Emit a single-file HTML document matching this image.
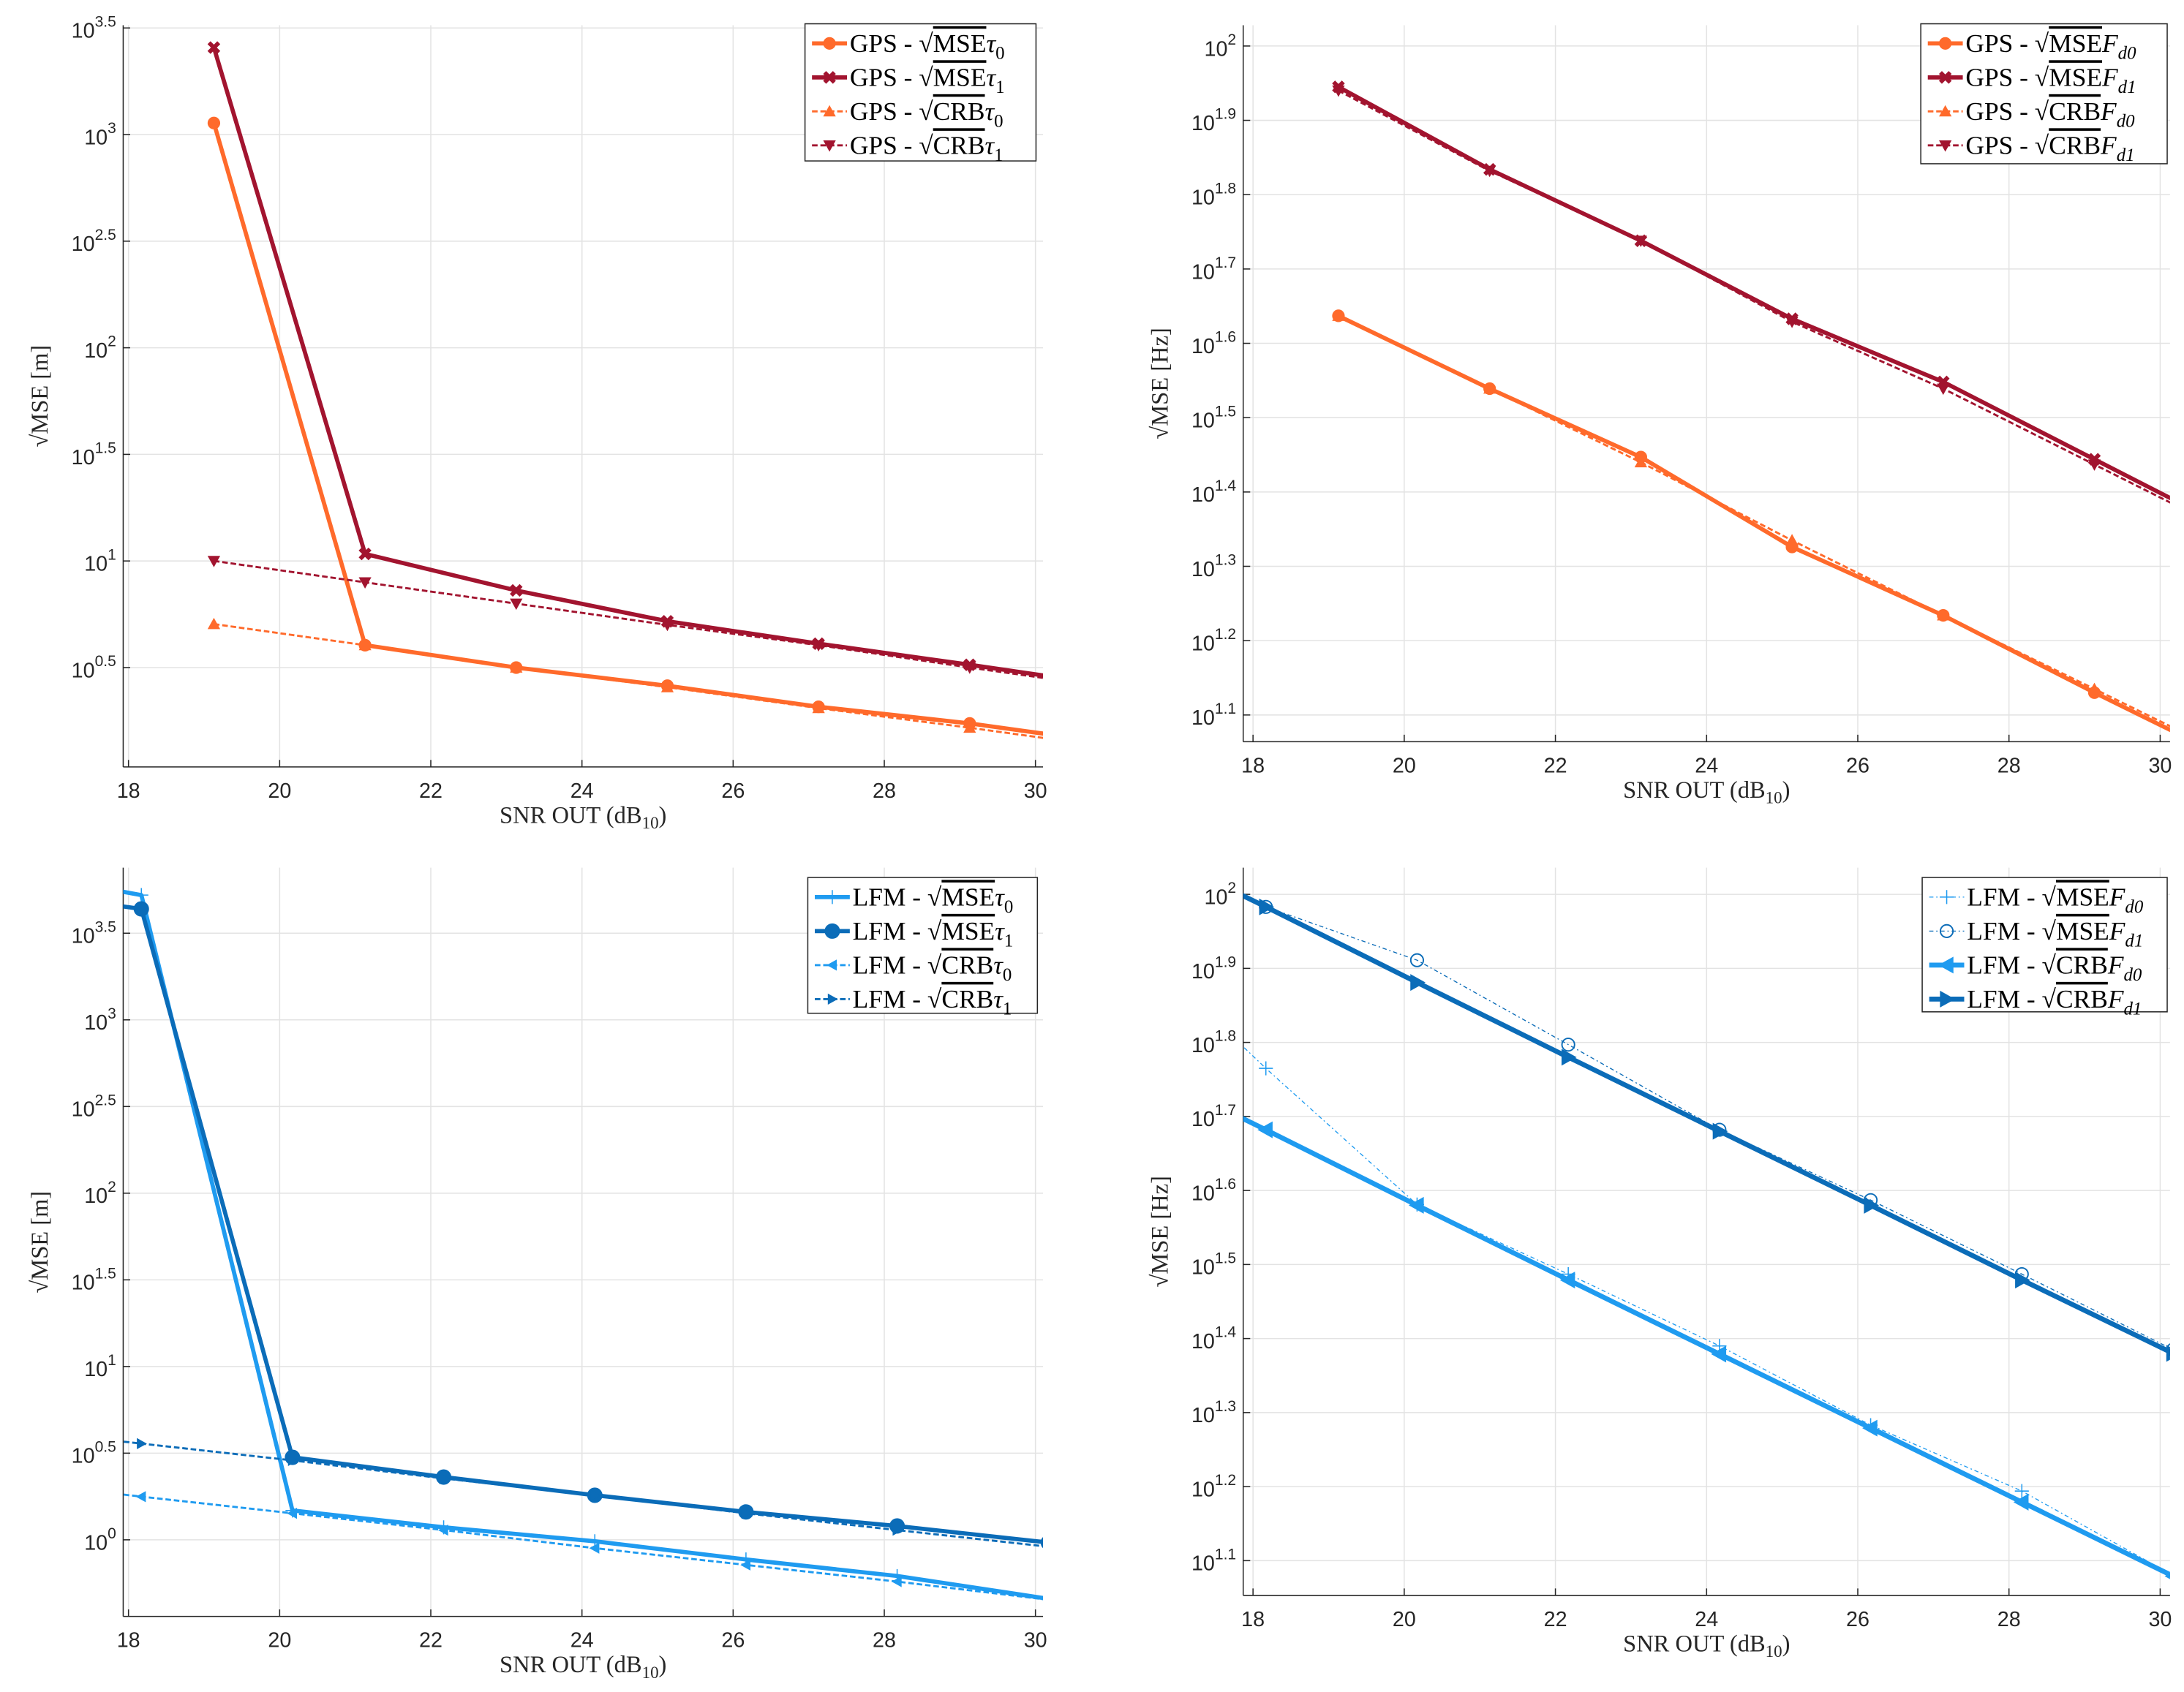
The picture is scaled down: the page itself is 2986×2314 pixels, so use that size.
<!DOCTYPE html>
<html><head><meta charset="utf-8"><style>
html,body{margin:0;padding:0;background:#fff;}
svg{display:block;}
.tick{font-family:"Liberation Sans",sans-serif;font-size:15px;fill:#262626;}
.lab{font-family:"Liberation Serif",serif;font-size:17px;fill:#262626;}
.leg{font-family:"Liberation Serif",serif;font-size:18.5px;fill:#000;}
</style></head><body>
<svg id="fig" width="2986" height="2314" viewBox="0 0 1560 1209" preserveAspectRatio="none" xmlns="http://www.w3.org/2000/svg"></svg>
<script>
// ---- data ----
const xTicks = [18,20,22,24,26,28,30];
const xGps = [19.13,21.13,23.13,25.13,27.13,29.13,31.13];
const xLfm = [16.17,18.17,20.17,22.17,24.17,26.17,28.17,30.17,32.17];
// log10 values
const gpsMseTau0 = [3.054,0.605,0.5,0.415,0.316,0.238,0.14];
const gpsMseTau1 = [3.408,1.033,0.862,0.717,0.612,0.513,0.41];
const gpsCrbTau0 = [0.704,0.605,0.5,0.408,0.31,0.218,0.12];
const gpsCrbTau1 = [1.0,0.9,0.8,0.7,0.605,0.5,0.4];
const gpsMseFd0 = [1.637,1.539,1.447,1.326,1.234,1.13,1.03];
const gpsMseFd1 = [1.945,1.834,1.738,1.633,1.548,1.444,1.34];
const gpsCrbFd0 = [1.637,1.539,1.44,1.335,1.234,1.135,1.035];
const gpsCrbFd1 = [1.94,1.832,1.738,1.629,1.539,1.437,1.335];
const lfmMseTau0 = [3.88,3.72,0.169,0.072,-0.008,-0.113,-0.209,-0.34,-0.45];
const lfmMseTau1 = [3.76,3.64,0.476,0.362,0.257,0.161,0.08,-0.016,-0.11];
const lfmCrbTau0 = [0.35,0.249,0.153,0.056,-0.048,-0.145,-0.241,-0.346,-0.45];
const lfmCrbTau1 = [0.65,0.555,0.458,0.354,0.257,0.153,0.056,-0.04,-0.14];
const lfmMseFd0 = [1.96,1.765,1.581,1.487,1.39,1.283,1.194,1.08,0.98];
const lfmMseFd1 = [2.08,1.983,1.911,1.797,1.682,1.587,1.487,1.385,1.285];
const lfmCrbFd0 = [1.782,1.682,1.58,1.479,1.379,1.279,1.179,1.079,0.979];
const lfmCrbFd1 = [2.083,1.983,1.881,1.78,1.68,1.58,1.479,1.38,1.28];
const tauTicks = [0.5,1,1.5,2,2.5,3,3.5];
const tauTickLabels = ['0.5','1','1.5','2','2.5','3','3.5'];
const tauTicksL = [0,0.5,1,1.5,2,2.5,3,3.5];
const tauTickLabelsL = ['0','0.5','1','1.5','2','2.5','3','3.5'];
const fdTicks = [1.1,1.2,1.3,1.4,1.5,1.6,1.7,1.8,1.9,2];
const fdTickLabels = ['1.1','1.2','1.3','1.4','1.5','1.6','1.7','1.8','1.9','2'];

const ORANGE='#ff6a2b', RED='#a2142f', LB='#1f9bf0', DB='#0b6cb8';
const NS='http://www.w3.org/2000/svg';
const fig=document.getElementById('fig');
function el(tag,attrs,parent){const e=document.createElementNS(NS,tag);for(const k in attrs)e.setAttribute(k,attrs[k]);(parent||fig).appendChild(e);return e;}

function marker(g,type,x,y,color,size){
  const s=size;
  if(type==='o')return el('circle',{cx:x,cy:y,r:s,fill:color,stroke:color},g);
  if(type==='oo')return el('circle',{cx:x,cy:y,r:s,fill:'none',stroke:color,'stroke-width':1},g);
  if(type==='x')return el('path',{d:`M${x-s},${y-s}L${x+s},${y+s}M${x-s},${y+s}L${x+s},${y-s}`,stroke:color,'stroke-width':3},g);
  if(type==='^')return el('path',{d:`M${x},${y-s}L${x+s},${y+s*0.8}L${x-s},${y+s*0.8}Z`,fill:color},g);
  if(type==='v')return el('path',{d:`M${x},${y+s}L${x+s},${y-s*0.8}L${x-s},${y-s*0.8}Z`,fill:color},g);
  if(type==='<')return el('path',{d:`M${x-s},${y}L${x+s*0.8},${y-s}L${x+s*0.8},${y+s}Z`,fill:color},g);
  if(type==='>')return el('path',{d:`M${x+s},${y}L${x-s*0.8},${y-s}L${x-s*0.8},${y+s}Z`,fill:color},g);
  if(type==='+')return el('path',{d:`M${x-s},${y}L${x+s},${y}M${x},${y-s}L${x},${y+s}`,stroke:color,'stroke-width':0.8},g);
}

let pid=0;
function plot(cfg){
  pid++;
  const {L,R,T,B,xmin,xmax,ymin,ymax}=cfg;
  const g=el('g',{});
  
  
  const sx=v=>L+(v-xmin)/(xmax-xmin)*(R-L);
  const sy=v=>B-(v-ymin)/(ymax-ymin)*(B-T);
  const cp=el('clipPath',{id:'cp'+pid},g);el('rect',{x:L,y:T,width:R-L,height:B-T},cp);
  xTicks.forEach(t=>{const l=el('line',{x1:sx(t),x2:sx(t),y1:T,y2:B,stroke:'#e3e3e3','stroke-width':0.8},g);});
  cfg.yticks.forEach(t=>{const l=el('line',{x1:L,x2:R,y1:sy(t),y2:sy(t),stroke:'#e3e3e3','stroke-width':0.8},g);});
  el('line',{x1:L,x2:L,y1:T,y2:B,stroke:'#262626','stroke-width':0.8},g);
  el('line',{x1:L,x2:R,y1:B,y2:B,stroke:'#262626','stroke-width':0.8},g);
  xTicks.forEach(t=>{
    el('line',{x1:sx(t),x2:sx(t),y1:B,y2:B-5,stroke:'#262626','stroke-width':0.8},g);
    const tx=el('text',{x:sx(t),y:B+22,'text-anchor':'middle',class:'tick'},g);tx.textContent=t;
    
  });
  cfg.yticks.forEach((t,i)=>{
    el('line',{x1:L,x2:L+5,y1:sy(t),y2:sy(t),stroke:'#262626','stroke-width':0.8},g);
    const tx=el('text',{x:L-5,y:sy(t)+7,'text-anchor':'end',class:'tick'},g);
    
    const a=el('tspan',{},tx);a.textContent='10';
    const b=el('tspan',{dy:-8,'font-size':'11px'},tx);b.textContent=cfg.ylabels[i];
  });
  const xl=el('text',{x:(L+R)/2,y:B+40,'text-anchor':'middle',class:'lab'},g);
  
  xl.appendChild(document.createTextNode('SNR OUT (dB'));
  const sub=el('tspan',{dy:4,'font-size':'12px'},xl);sub.textContent='10';
  const cl=el('tspan',{dy:-4},xl);cl.textContent=')';
  const yl=el('text',{x:0,y:0,'text-anchor':'middle',class:'lab',transform:`translate(${cfg.ylx},${(T+B)/2}) rotate(-90)`},g);
  
  yl.textContent='√MSE ['+cfg.unit+']';
  const sg=el('g',{'clip-path':`url(#cp${pid})`},g);
  cfg.series.forEach(s=>{
    const pts=s.y.map((v,i)=>sx(cfg.x[i]).toFixed(1)+','+sy(v).toFixed(1)).join(' ');
    const pl=el('polyline',{points:pts,fill:'none',stroke:s.c,'stroke-width':s.w,'stroke-dasharray':s.d||'none','stroke-linejoin':'round'},sg);
    
    s.y.forEach((v,i)=>{const m=marker(sg,s.m,sx(cfg.x[i]),sy(v),s.c,s.ms);});
  });
  const lg=el('g',{},g);
  
  const [lx,ly,lw,lh]=cfg.leg;
  el('rect',{x:lx,y:ly,width:lw,height:lh,fill:'#fff',stroke:'#262626','stroke-width':0.8},lg);
  cfg.series.forEach((s,i)=>{
    const yy=ly+14+i*24.3;
    const e=el('g',{},lg);
    
    el('line',{x1:lx+5,x2:lx+30,y1:yy,y2:yy,stroke:s.c,'stroke-width':s.w,'stroke-dasharray':s.d||'none'},e);
    marker(e,s.m,lx+17.5,yy,s.c,s.ms);
    const t=el('text',{x:lx+32,y:yy+6,class:'leg'},e);
    t.appendChild(document.createTextNode(s.pre+' - √'));
    const o=el('tspan',{'text-decoration':'overline'},t);o.textContent=s.q;
    const sym=el('tspan',{'font-style':'italic'},t);sym.textContent=s.sym;
    const sb=el('tspan',{dy:5,'font-size':'13px','font-style':s.sub.length>1?'italic':'normal'},t);sb.textContent=s.sub;
  });
}

plot({name:'gps-delay-plot',L:88,R:745,T:18,B:548,xmin:17.93,xmax:30.1,ymin:0.034,ymax:3.513,x:xGps,
  yticks:tauTicks,ylabels:tauTickLabels,unit:'m',ylx:34,leg:[575,17,165,98],
  series:[
  {name:'gps-mse-tau0',y:gpsMseTau0,c:ORANGE,w:3,m:'o',ms:4,pre:'GPS',q:'MSE',sym:'τ',sub:'0'},
  {name:'gps-mse-tau1',y:gpsMseTau1,c:RED,w:3,m:'x',ms:3.5,pre:'GPS',q:'MSE',sym:'τ',sub:'1'},
  {name:'gps-crb-tau0',y:gpsCrbTau0,c:ORANGE,w:1.5,d:'4,2',m:'^',ms:4.5,pre:'GPS',q:'CRB',sym:'τ',sub:'0'},
  {name:'gps-crb-tau1',y:gpsCrbTau1,c:RED,w:1.5,d:'4,2',m:'v',ms:4.5,pre:'GPS',q:'CRB',sym:'τ',sub:'1'}]});

plot({name:'gps-doppler-plot',L:888,R:1550,T:18,B:530,xmin:17.87,xmax:30.13,ymin:1.064,ymax:2.028,x:xGps,
  yticks:fdTicks,ylabels:fdTickLabels,unit:'Hz',ylx:834,leg:[1372,17,176,100],
  series:[
  {name:'gps-mse-fd0',y:gpsMseFd0,c:ORANGE,w:3,m:'o',ms:4,pre:'GPS',q:'MSE',sym:'F',sub:'d0'},
  {name:'gps-mse-fd1',y:gpsMseFd1,c:RED,w:3,m:'x',ms:3.5,pre:'GPS',q:'MSE',sym:'F',sub:'d1'},
  {name:'gps-crb-fd0',y:gpsCrbFd0,c:ORANGE,w:1.5,d:'4,2',m:'^',ms:4.5,pre:'GPS',q:'CRB',sym:'F',sub:'d0'},
  {name:'gps-crb-fd1',y:gpsCrbFd1,c:RED,w:1.5,d:'4,2',m:'v',ms:4.5,pre:'GPS',q:'CRB',sym:'F',sub:'d1'}]});

plot({name:'lfm-delay-plot',L:88,R:745,T:620,B:1155,xmin:17.93,xmax:30.1,ymin:-0.442,ymax:3.878,x:xLfm,
  yticks:tauTicksL,ylabels:tauTickLabelsL,unit:'m',ylx:34,leg:[577,627,164,97],
  series:[
  {name:'lfm-mse-tau0',y:lfmMseTau0,c:LB,w:3,m:'+',ms:5,pre:'LFM',q:'MSE',sym:'τ',sub:'0'},
  {name:'lfm-mse-tau1',y:lfmMseTau1,c:DB,w:3,m:'o',ms:5,pre:'LFM',q:'MSE',sym:'τ',sub:'1'},
  {name:'lfm-crb-tau0',y:lfmCrbTau0,c:LB,w:1.5,d:'4,2',m:'<',ms:4,pre:'LFM',q:'CRB',sym:'τ',sub:'0'},
  {name:'lfm-crb-tau1',y:lfmCrbTau1,c:DB,w:1.5,d:'4,2',m:'>',ms:4,pre:'LFM',q:'CRB',sym:'τ',sub:'1'}]});

plot({name:'lfm-doppler-plot',L:888,R:1550,T:620,B:1140,xmin:17.87,xmax:30.13,ymin:1.053,ymax:2.036,x:xLfm,
  yticks:fdTicks,ylabels:fdTickLabels,unit:'Hz',ylx:834,leg:[1373,627,175,96],
  series:[
  {name:'lfm-mse-fd0',y:lfmMseFd0,c:LB,w:0.7,d:'3,2,1,2',m:'+',ms:5,pre:'LFM',q:'MSE',sym:'F',sub:'d0'},
  {name:'lfm-mse-fd1',y:lfmMseFd1,c:DB,w:0.7,d:'3,2,1,2',m:'oo',ms:4.5,pre:'LFM',q:'MSE',sym:'F',sub:'d1'},
  {name:'lfm-crb-fd0',y:lfmCrbFd0,c:LB,w:3.5,m:'<',ms:6,pre:'LFM',q:'CRB',sym:'F',sub:'d0'},
  {name:'lfm-crb-fd1',y:lfmCrbFd1,c:DB,w:3.5,m:'>',ms:6,pre:'LFM',q:'CRB',sym:'F',sub:'d1'}]});
</script>
</body></html>
